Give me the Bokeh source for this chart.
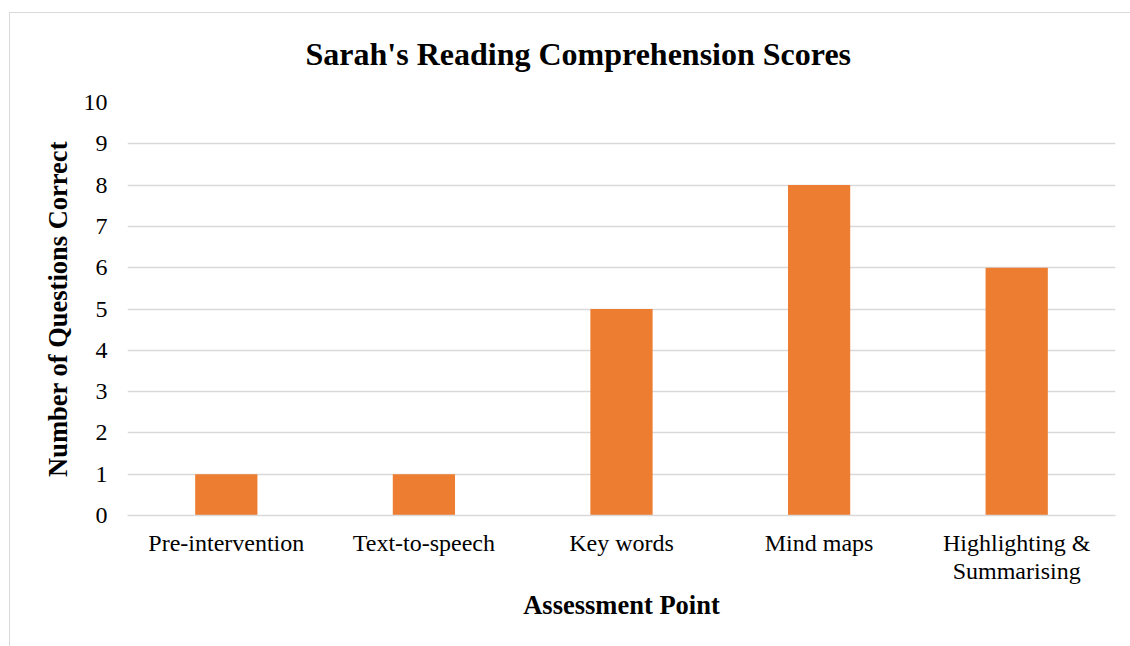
from bokeh.plotting import figure
from bokeh.models import Range1d, ColumnDataSource, Title, FixedTicker, InlineStyleSheet, LinearAxis
from bokeh.embed import file_html
from bokeh.resources import INLINE

categories = ["Pre-intervention", "Text-to-speech", "Key words", "Mind maps", "Highlighting & Summarising"]
scores = [1, 1, 5, 8, 6]
tick_line1 = ["Pre-intervention", "Text-to-speech", "Key words", "Mind maps", "Highlighting &"]
tick_line2 = [" ", " ", " ", " ", "Summarising"]
y_ticks = [0, 1, 2, 3, 4, 5, 6, 7, 8, 9, 10]

FONT = "Liberation Serif"

positions = [i + 0.5 for i in range(len(categories))]

p = figure(
    x_range=Range1d(0, len(categories)),
    y_range=Range1d(0, 10),
    width=1130, height=646,
    output_backend="svg", toolbar_location=None,
    min_border_left=127, min_border_right=15, min_border_top=102, min_border_bottom=131,
)

src = ColumnDataSource(dict(x=positions, top=scores, name=categories))
p.vbar(x="x", top="top", width=0.315, source=src, fill_color="#ED7D31", line_color=None)

p.outline_line_color = None
p.xgrid.grid_line_color = None
p.ygrid.grid_line_color = "#d9d9d9"
p.ygrid.grid_line_width = 1.3
p.yaxis.ticker = FixedTicker(ticks=y_ticks)

x1 = p.xaxis[0]
x2 = LinearAxis()
p.add_layout(x2, "below")

def style_axis(ax):
    ax.major_tick_line_color = None
    ax.minor_tick_line_color = None
    ax.major_tick_out = 0
    ax.major_tick_in = 0
    ax.major_label_text_font = FONT
    ax.major_label_text_font_size = "24px"
    ax.major_label_text_color = "#000000"
    ax.axis_label_text_font = FONT
    ax.axis_label_text_font_style = "bold"
    ax.axis_label_text_font_size = "26.5px"
    ax.axis_label_text_color = "#000000"

for ax in (x1, x2, p.yaxis[0]):
    style_axis(ax)

for ax in (x1, x2):
    ax.ticker = FixedTicker(ticks=positions, minor_ticks=[])

x1.axis_line_color = "#d9d9d9"
x1.axis_line_width = 1.3
x1.major_label_standoff = 14
x1.major_label_overrides = {pos: lab for pos, lab in zip(positions, tick_line1)}

x2.axis_line_color = None
x2.major_label_standoff = -1
x2.major_label_overrides = {pos: lab for pos, lab in zip(positions, tick_line2)}
x2.axis_label = "Assessment Point"
x2.axis_label_standoff = 3

p.yaxis.axis_line_color = None
p.yaxis.major_label_standoff = 20
p.yaxis.axis_label = "Number of Questions Correct"
p.yaxis.axis_label_standoff = 8

p.add_layout(Title(text="Sarah's Reading Comprehension Scores", align="left", offset=178,
                   text_font=FONT, text_font_size="32px", text_font_style="bold",
                   text_color="#000000", standoff=62), "above")

p.stylesheets = [InlineStyleSheet(css=(
    ":host::after { content: ''; position: absolute; left: 9px; top: 12px; right: 0; bottom: 0;"
    " border-left: 1.3px solid #d9d9d9; border-top: 1.3px solid #d9d9d9; pointer-events: none; }"
))]

open("out.html", "w").write(file_html(p, INLINE))
